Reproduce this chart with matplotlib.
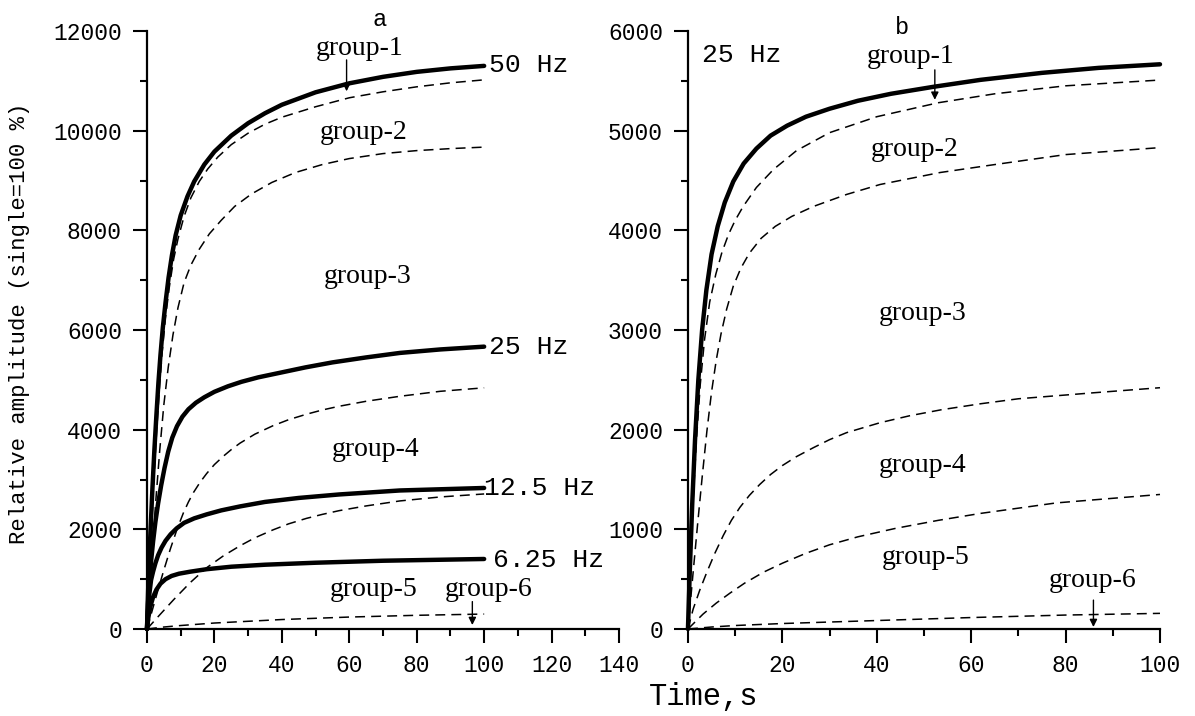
import matplotlib.pyplot as plt
from matplotlib.ticker import MultipleLocator

plt.rcParams['font.family'] = ['Liberation Mono', 'DejaVu Sans']

# ---- panel a: time (s) and relative amplitude ----
t_a_50 = [0, 0.4, 1.0, 1.6, 2.2, 2.8, 3.4, 4, 4.7, 5.5, 6.4, 7.4, 8.5, 10, 12, 14, 17, 20, 25, 30, 35, 40,
          50, 60, 70, 80, 90, 100]
v_a_50 = [0, 900, 1900, 2800, 3600, 4300, 4950, 5500, 6050, 6550, 7050, 7500, 7900, 8300, 8680, 8980, 9320,
          9580, 9900, 10150, 10350, 10520, 10770, 10950, 11080, 11180, 11250, 11300]

t_a_25 = [0, 0.3, 0.7, 1.2, 1.8, 2.5, 3.3, 4.2, 5.2, 6.3, 7.5, 8.9, 10.5, 12.3, 14.5, 17, 20, 24, 28, 33, 40,
          47, 55, 65, 75, 87, 100]
v_a_25 = [0, 500, 950, 1350, 1750, 2150, 2520, 2880, 3230, 3560, 3840, 4070, 4260, 4410, 4540, 4650, 4760,
          4870, 4960, 5050, 5150, 5250, 5350, 5450, 5540, 5610, 5666]

t_a_125 = [0, 0.3, 0.7, 1.2, 1.8, 2.5, 3.3, 4.3, 5.5, 7, 8.8, 11, 14, 17.7, 22, 27.6, 35, 45, 57, 75, 100]
v_a_125 = [0, 350, 700, 980, 1150, 1320, 1480, 1630, 1770, 1900, 2020, 2130, 2220, 2300, 2380, 2460, 2550,
           2630, 2700, 2780, 2830]

t_a_625 = [0, 0.4, 1, 1.8, 2.8, 4, 5.5, 7.3, 9.5, 12.8, 17.7, 25, 35, 50, 70, 100]
v_a_625 = [0, 230, 450, 640, 790, 910, 1000, 1065, 1110, 1150, 1200, 1250, 1290, 1330, 1370, 1405]

# group boundaries (dashed)
t_a_b1 = [0, 0.6, 1.3, 2.0, 2.8, 3.6, 4.5, 5.5, 6.6, 7.9, 9.2, 11, 13, 15.5, 18, 21, 25, 30, 35, 40, 50, 60,
          70, 80, 90, 100]
v_a_b1 = [0, 950, 2000, 2950, 3900, 4750, 5550, 6250, 6850, 7420, 7830, 8280, 8650, 8980, 9230, 9470, 9720,
          9950, 10130, 10270, 10480, 10660, 10780, 10880, 10960, 11020]

t_a_b2 = [0, 0.8, 1.7, 2.7, 3.8, 5, 6.3, 7.7, 9.2, 11, 13, 15.5, 18.5, 22, 26, 31, 37, 44, 52, 60, 70, 80, 90,
          100]
v_a_b2 = [0, 800, 1700, 2650, 3600, 4500, 5250, 5900, 6450, 6950, 7300, 7620, 7930, 8200, 8480, 8730, 8960,
          9160, 9320, 9440, 9540, 9600, 9640, 9670]

t_a_b3 = [0, 1.5, 3, 4.9, 6.9, 8.9, 10.8, 12.3, 13.8, 15.7, 17.7, 20, 22.7, 25, 27.6, 32, 37.4, 42, 47.3, 52,
          57, 65, 75, 87, 100]
v_a_b3 = [0, 360, 720, 1160, 1600, 2000, 2330, 2550, 2740, 2940, 3120, 3300, 3470, 3600, 3730, 3910, 4080,
          4200, 4310, 4395, 4470, 4570, 4670, 4770, 4840]

t_a_b4 = [0, 4, 8, 12.8, 17.7, 22.7, 27.6, 32, 37.4, 42, 47.3, 52, 57, 65, 75, 87, 100]
v_a_b4 = [0, 300, 595, 930, 1230, 1470, 1670, 1830, 1990, 2110, 2220, 2300, 2375, 2470, 2570, 2650, 2710]

t_a_b5 = [0, 5, 10, 20, 40, 60, 80, 100]
v_a_b5 = [0, 40, 70, 120, 190, 240, 275, 300]

# ---- panel b: 25 Hz only ----
t_b_25 = [0, 0.4, 0.9, 1.5, 2.2, 3, 3.9, 5, 6.3, 7.8, 9.6, 11.8, 14.5, 17.5, 21, 25, 30, 36, 43, 52, 62, 75,
          87, 100]
v_b_25 = [0, 600, 1250, 1900, 2500, 3000, 3400, 3760, 4040, 4280, 4490, 4670, 4820, 4950, 5050, 5140, 5220,
          5300, 5370, 5440, 5510, 5580, 5630, 5666]

t_b_b1 = [0, 0.5, 1.1, 1.8, 2.6, 3.5, 4.6, 5.9, 7.2, 8.6, 10, 11.7, 14.5, 18.1, 23, 30, 40, 53, 65, 80, 100]
v_b_b1 = [0, 650, 1300, 1900, 2450, 2900, 3280, 3560, 3780, 3960, 4100, 4240, 4430, 4610, 4800, 4980, 5140,
          5280, 5370, 5450, 5508]

t_b_b2 = [0, 1, 2, 3, 4, 5, 6, 7, 8.2, 9.6, 11.2, 13, 15.5, 18.5, 22, 26.6, 33.6, 40.7, 53.4, 65, 80, 100]
v_b_b2 = [0, 520, 1030, 1520, 1980, 2380, 2700, 2960, 3210, 3440, 3620, 3770, 3920, 4040, 4140, 4240, 4360,
          4460, 4580, 4660, 4760, 4830]

t_b_b3 = [0, 1.1, 2.5, 4, 5.7, 7.5, 9.2, 11, 13, 15.2, 17.5, 20, 23, 26.6, 30, 33.6, 40.7, 47, 53.7, 62, 70,
          85.9, 100]
v_b_b3 = [0, 200, 390, 570, 760, 940, 1090, 1220, 1340, 1450, 1550, 1640, 1730, 1820, 1900, 1970, 2070, 2140,
          2200, 2260, 2310, 2370, 2421]

t_b_b4 = [0, 3.2, 6, 8.9, 12, 16, 20, 25, 30, 36, 44, 53, 62, 78, 100]
v_b_b4 = [0, 150, 260, 360, 460, 570, 660, 760, 845, 925, 1010, 1090, 1160, 1265, 1350]

t_b_b5 = [0, 5, 10, 20, 40, 60, 80, 100]
v_b_b5 = [0, 20, 35, 55, 85, 115, 140, 157]

solid = dict(color='black', lw=3.2, solid_capstyle='round', solid_joinstyle='round', zorder=3)
dashed = dict(color='black', lw=1.1, linestyle=(0, (6.5, 4)), dash_joinstyle='round', zorder=2)
arrow = dict(arrowstyle='-|>', color='black', lw=1.0, mutation_scale=11, shrinkA=0, shrinkB=0)
grp_font = dict(family=['Liberation Serif', 'DejaVu Serif'], fontsize=20, ha='center', va='center')

fig = plt.figure(figsize=(11.95, 7.16), dpi=100)
ax_a = fig.add_axes([0.1230, 0.1215, 0.3950, 0.8352])
ax_b = fig.add_axes([0.5757, 0.1215, 0.3950, 0.8352])

# panel a
for t, v in [(t_a_b1, v_a_b1), (t_a_b2, v_a_b2), (t_a_b3, v_a_b3), (t_a_b4, v_a_b4), (t_a_b5, v_a_b5)]:
    ax_a.plot(t, v, **dashed)
for t, v in [(t_a_50, v_a_50), (t_a_25, v_a_25), (t_a_125, v_a_125), (t_a_625, v_a_625)]:
    ax_a.plot(t, v, **solid)

ax_a.set_xlim(0, 140)
ax_a.set_ylim(0, 12000)
ax_a.xaxis.set_major_locator(MultipleLocator(20))
ax_a.xaxis.set_minor_locator(MultipleLocator(10))
ax_a.yaxis.set_major_locator(MultipleLocator(2000))
ax_a.yaxis.set_minor_locator(MultipleLocator(1000))

ax_a.text(69, 12230, 'a', fontsize=17, ha='center', va='center')
ax_a.text(101.5, 11320, '50 Hz', fontsize=19, ha='left', va='center')
ax_a.text(101.5, 5650, '25 Hz', fontsize=19, ha='left', va='center')
ax_a.text(100, 2830, '12.5 Hz', fontsize=19, ha='left', va='center')
ax_a.text(102.5, 1390, '6.25 Hz', fontsize=19, ha='left', va='center')
ax_a.text(63, 11640, 'group-1', **grp_font)
ax_a.text(64.3, 9960, 'group-2', **grp_font)
ax_a.text(65.5, 7080, 'group-3', **grp_font)
ax_a.text(67.8, 3600, 'group-4', **grp_font)
ax_a.text(67.2, 790, 'group-5', **grp_font)
ax_a.text(101.2, 790, 'group-6', **grp_font)
ax_a.annotate('', xy=(59.2, 10790), xytext=(59.2, 11420), arrowprops=arrow)
ax_a.annotate('', xy=(96.5, 80), xytext=(96.5, 550), arrowprops=arrow)

# panel b
for t, v in [(t_b_b1, v_b_b1), (t_b_b2, v_b_b2), (t_b_b3, v_b_b3), (t_b_b4, v_b_b4), (t_b_b5, v_b_b5)]:
    ax_b.plot(t, v, **dashed)
ax_b.plot(t_b_25, v_b_25, **solid)

ax_b.set_xlim(0, 100)
ax_b.set_ylim(0, 6000)
ax_b.xaxis.set_major_locator(MultipleLocator(20))
ax_b.xaxis.set_minor_locator(MultipleLocator(10))
ax_b.yaxis.set_major_locator(MultipleLocator(1000))
ax_b.yaxis.set_minor_locator(MultipleLocator(500))

ax_b.text(45.3, 6040, 'b', fontsize=17, ha='center', va='center')
ax_b.text(3.0, 5760, '25 Hz', fontsize=19, ha='left', va='center')
ax_b.text(47.2, 5745, 'group-1', **grp_font)
ax_b.text(48.1, 4810, 'group-2', **grp_font)
ax_b.text(49.7, 3170, 'group-3', **grp_font)
ax_b.text(49.7, 1640, 'group-4', **grp_font)
ax_b.text(50.4, 715, 'group-5', **grp_font)
ax_b.text(85.8, 490, 'group-6', **grp_font)
ax_b.annotate('', xy=(52.3, 5310), xytext=(52.3, 5610), arrowprops=arrow)
ax_b.annotate('', xy=(85.9, 20), xytext=(85.9, 290), arrowprops=arrow)

for ax in (ax_a, ax_b):
    ax.spines['top'].set_visible(False)
    ax.spines['right'].set_visible(False)
    ax.spines['left'].set_linewidth(1.6)
    ax.spines['bottom'].set_linewidth(1.6)
    ax.tick_params(which='major', direction='out', length=10, width=1.5, labelsize=16.5, pad=8)
    ax.tick_params(which='minor', direction='out', length=5, width=1.5)
    for line in ax.lines:
        line.set_clip_on(False)

fig.text(0.0167, 0.549, 'Relative amplitude (single=100 %)', rotation=90, fontsize=16,
         ha='center', va='center')
fig.text(0.589, 0.0265, 'Time,s', fontsize=22, ha='center', va='center')

plt.savefig('out.png', dpi=100)
